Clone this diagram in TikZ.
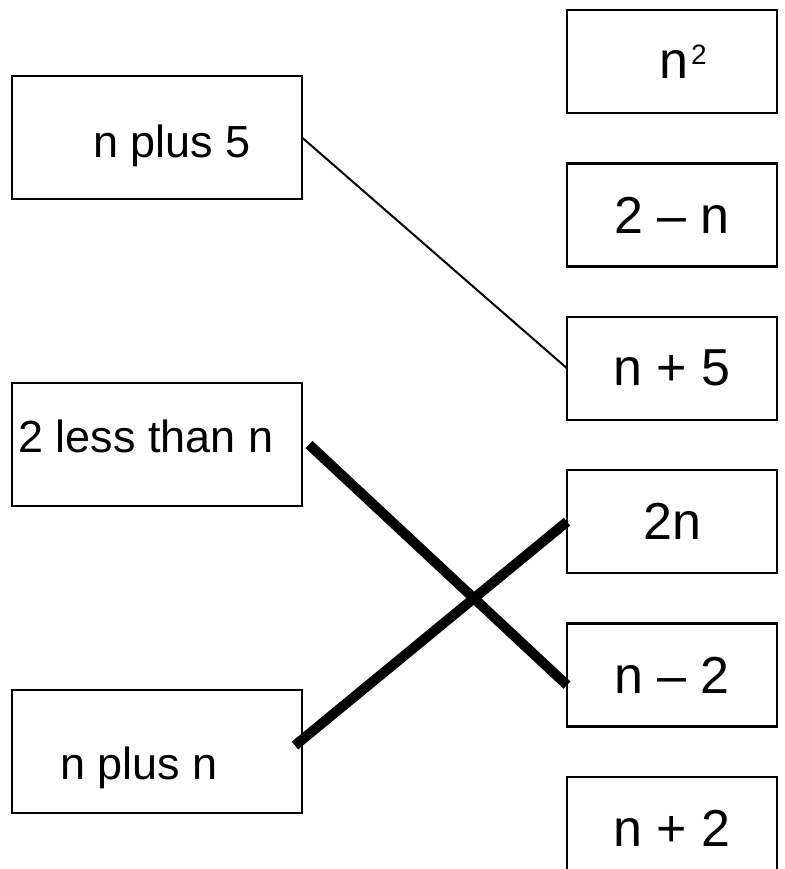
\documentclass[tikz,border=0pt]{standalone}
\usepackage{fontspec}
\setmainfont{Liberation Sans}
\usetikzlibrary{positioning}
\tikzset{
  %% ---- boxes ----
  leftbox/.style  = {rectangle, draw=black, line width=2.5pt,
                     minimum width=290pt, minimum height=123pt,
                     inner sep=0pt, outer sep=0pt},
  rightbox/.style = {rectangle, draw=black, line width=2.5pt,
                     minimum width=210pt, minimum height=103pt,
                     inner sep=0pt, outer sep=0pt,
                     font=\fontsize{52}{62}\selectfont},
  lefttext/.style = {anchor=base west, inner sep=0pt,
                     font=\fontsize{45}{54}\selectfont},
  %% ---- lines ----
  thinline/.style  = {line width=2pt},
  thickline/.style = {line width=10pt},
}
\newcommand{\smalltwo}{\raisebox{14pt}{\fontsize{28}{30}\selectfont 2}}

\begin{document}
\begin{tikzpicture}[x=1pt, y=-1pt]
  \useasboundingbox (0,0) rectangle (784,869);
  \clip (0,0) rectangle (784,869);

  % left column
  \node[leftbox] (plusfive) at (157,137.5) {};
  \node[leftbox, below=184pt of plusfive] (lessthan) {};
  \node[leftbox, below=184pt of lessthan] (plusn) {};

  \node[lefttext] (tplusfive) at ([xshift=81pt,yshift=-20.5pt]plusfive.west) {n plus 5};
  \node[lefttext] (tlessthan) at ([xshift=6pt,yshift=-8pt]lessthan.west) {2 less than n};
  \node[lefttext] (tplusn) at ([xshift=48pt,yshift=-28pt]plusn.west) {n plus n};

  % right column
  \node[rightbox] (nsquare) at (672,61.5) {\hspace*{22pt}n\hspace{3pt}\smalltwo};
  \node[rightbox, below=50.4pt of nsquare] (twominus) {2 – n};
  \node[rightbox, below=50.4pt of twominus] (nplusfive) {n + 5};
  \node[rightbox, below=50.4pt of nplusfive] (twon) {2n};
  \node[rightbox, below=50.4pt of twon] (nminustwo) {n – 2};
  \node[rightbox, below=50.4pt of nminustwo] (nplustwo) {n + 2};

  % matches
  \draw[thinline] (plusfive.east) -- (nplusfive.west);
  \draw[thickline] ([xshift=7pt]lessthan.east) -- ([yshift=-10pt]nminustwo.west);
  \draw[thickline] ([xshift=-7pt,yshift=6pt]plusn.east) -- (twon.west);

\end{tikzpicture}
\end{document}
